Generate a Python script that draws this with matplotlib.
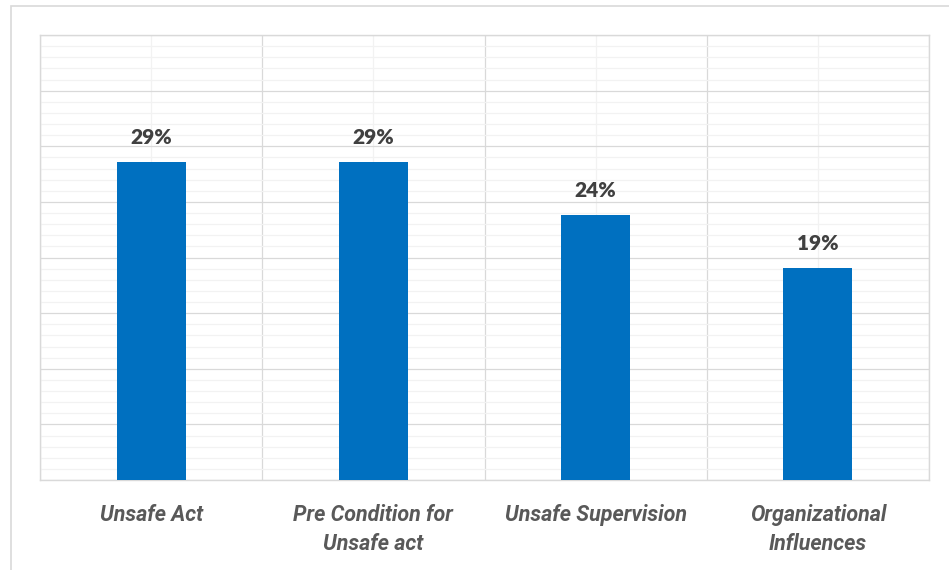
import matplotlib.pyplot as plt
from matplotlib.patches import Rectangle
from matplotlib.ticker import MultipleLocator, FixedLocator

# HFACS level shares (percent of 21 classified factors)
categories = ["Unsafe Act", "Pre Condition for\nUnsafe act", "Unsafe Supervision", "Organizational\nInfluences"]
shares = [28.57, 28.57, 23.81, 19.05]

plt.rcParams['font.family'] = ['Lato', 'DejaVu Sans']

W, H = 949, 570
fig = plt.figure(figsize=(W / 100, H / 100), dpi=100)

# light frame around the whole chart
fig.patches.append(Rectangle((11 / W, -0.1), 1.1, 1 - 6 / H + 0.1, transform=fig.transFigure,
                             fill=False, edgecolor="#d9d9d9", linewidth=1.2))

ax = fig.add_axes([40 / W, (H - 480) / H, 889 / W, 445 / H])
x = range(len(categories))
ax.bar(x, shares, width=0.31, color="#0070C0", zorder=3)

for xi, v in zip(x, shares):
    ax.text(xi, v + 2.2, f"{v:.0f}%", ha="center", va="center", fontsize=15,
            fontweight="heavy", color="#404040")

ax.set_xlim(-0.5, len(categories) - 0.5)
ax.set_ylim(0, 40)
ax.yaxis.set_major_locator(MultipleLocator(5))
ax.yaxis.set_minor_locator(MultipleLocator(1))
ax.set_xticks(list(x))
ax.set_xticklabels(categories, fontsize=15.5, fontweight="bold", fontstyle="italic",
                   color="#595959", linespacing=1.45, family=["Roboto", "DejaVu Sans"])
ax.xaxis.set_minor_locator(FixedLocator([i - 0.5 for i in range(len(categories) + 1)]))

ax.grid(True, axis="y", which="major", color="#d9d9d9", linewidth=0.9)
ax.grid(True, axis="y", which="minor", color="#f2f2f2", linewidth=0.9)
ax.grid(True, axis="x", which="minor", color="#d9d9d9", linewidth=0.9)
ax.grid(True, axis="x", which="major", color="#f2f2f2", linewidth=0.9)
ax.set_axisbelow(True)

ax.tick_params(axis="both", which="both", length=0)
ax.tick_params(axis="x", pad=17)
ax.set_yticklabels([])
for s in ax.spines.values():
    s.set_color("#d9d9d9")
    s.set_linewidth(1.0)

fig.savefig("out.png", dpi=100)
